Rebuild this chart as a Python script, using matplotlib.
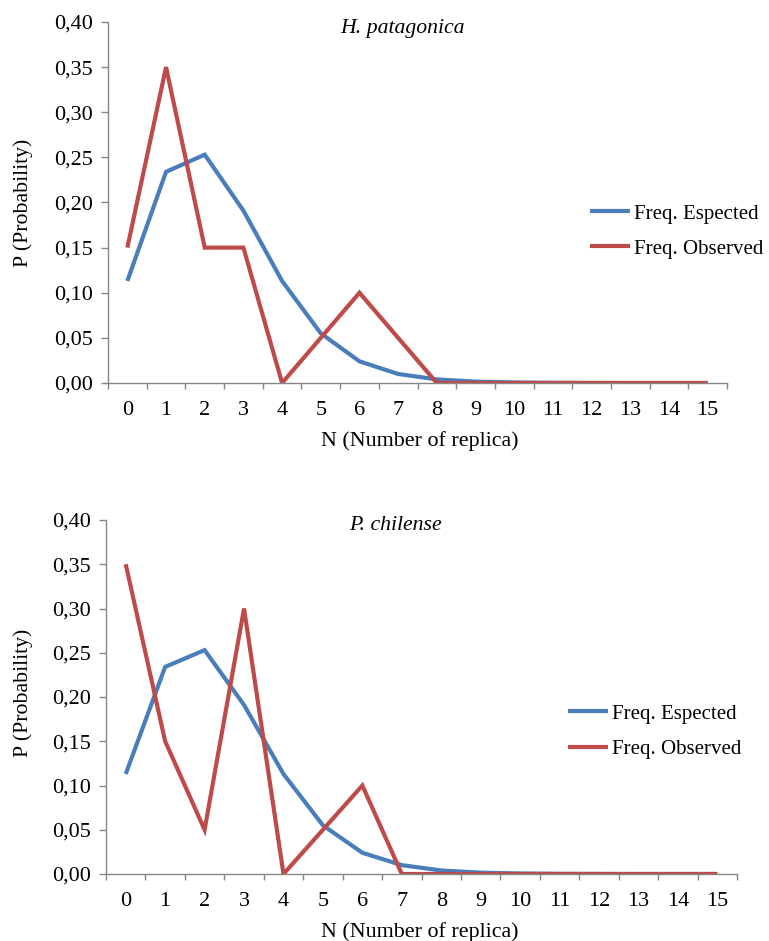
import numpy as np
import matplotlib
matplotlib.use("Agg")
import matplotlib.pyplot as plt
from matplotlib.ticker import FuncFormatter

plt.rcParams['font.family'] = ['Liberation Serif', 'DejaVu Serif']

n_values = list(range(16))
freq_expected = [0.113, 0.234, 0.253, 0.191, 0.113, 0.055, 0.024, 0.010,
                 0.004, 0.0015, 0.0006, 0.0002, 0.0001, 0.0, 0.0, 0.0]
obs_patagonica = [0.15, 0.35, 0.15, 0.15, 0.0, 0.05, 0.10, 0.05,
                  0.0, 0.0, 0.0, 0.0, 0.0, 0.0, 0.0, 0.0]
obs_chilense = [0.35, 0.15, 0.05, 0.30, 0.0, 0.05, 0.10, 0.0,
                0.0, 0.0, 0.0, 0.0, 0.0, 0.0, 0.0, 0.0]
y_ticks = [0.0, 0.05, 0.10, 0.15, 0.20, 0.25, 0.30, 0.35, 0.40]

BLUE = "#4A7EBB"
RED = "#BE4B48"
AXIS_GREY = "#868686"
W, H = 769, 941

fig = plt.figure(figsize=(W / 100, H / 100), dpi=100)


def px(x, y):
    return x / W, 1 - y / H


def make_panel(rect, observed, title, title_xy, legend_xy, ylab_y, xlab_y):
    ax = fig.add_axes(rect)
    ax.plot(n_values, freq_expected, color=BLUE, lw=3, label="Freq. Espected",
            solid_joinstyle="miter", solid_capstyle="butt")
    ax.plot(n_values, observed, color=RED, lw=3, label="Freq. Observed",
            solid_joinstyle="miter", solid_capstyle="butt")
    ax.set_xlim(-0.5, 15.5)
    ax.set_ylim(0, 0.40)
    ax.set_yticks(y_ticks)
    ax.yaxis.set_major_formatter(FuncFormatter(lambda v, p: f"{v:.2f}".replace(".", ",")))
    ax.set_xticks(n_values)
    ax.set_xticks(np.arange(-0.5, 16, 1.0), minor=True)
    ax.tick_params(axis="x", which="major", length=0, pad=13, labelsize=16)
    ax.tick_params(axis="x", which="minor", length=4.5, color=AXIS_GREY, width=1)
    ax.tick_params(axis="y", length=5, color=AXIS_GREY, width=1, labelsize=16, pad=6)
    for s in ["top", "right"]:
        ax.spines[s].set_visible(False)
    for s in ["left", "bottom"]:
        ax.spines[s].set_color(AXIS_GREY)
        ax.spines[s].set_linewidth(1)
    ax.set_zorder(1)
    fx, fy = px(*title_xy)
    fig.text(fx, fy, title, style="italic", fontsize=15.7, ha="center", va="center")
    fx, fy = px(23, ylab_y)
    fig.text(fx, fy, "P (Probability)", rotation=90, fontsize=15.7, ha="center", va="center")
    fx, fy = px(420, xlab_y)
    fig.text(fx, fy, "N (Number of replica)", fontsize=15.8, ha="center", va="center")
    lx, ly = px(*legend_xy)
    ax.legend(loc="upper left", bbox_to_anchor=(lx, ly), bbox_transform=fig.transFigure,
              frameon=False, fontsize=15, handlelength=1.9, handletextpad=0.2,
              labelspacing=0.75, borderaxespad=0, borderpad=0)
    return ax


make_panel([108 / W, 1 - 383 / H, 619 / W, 361 / H], obs_patagonica,
           "H. patagonica", (402, 28), (590, 204), 203, 441)
make_panel([106 / W, 1 - 874 / H, 631 / W, 354 / H], obs_chilense,
           "P. chilense", (395, 525), (568, 704), 693, 932)

fig.savefig("out.png", dpi=100)
